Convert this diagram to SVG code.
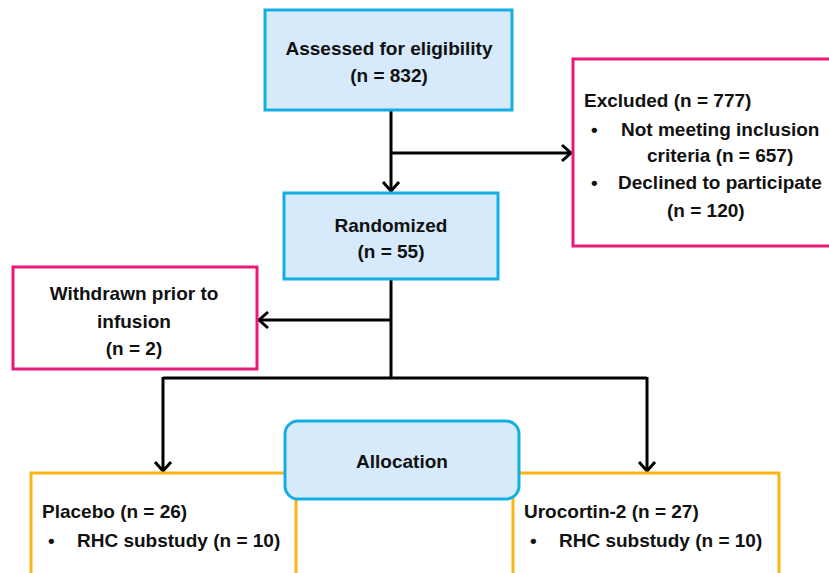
<svg xmlns="http://www.w3.org/2000/svg" width="829" height="573" viewBox="0 0 829 573">
<style>
text{font-family:"Liberation Sans",Arial,sans-serif;font-weight:bold;font-size:19px;fill:#111}
.c{text-anchor:middle}
.blue{fill:#d6eafb;stroke:#13aee3;stroke-width:3}
.pink{fill:#fff;stroke:#e8197b;stroke-width:3}
.orange{fill:#fff;stroke:#fbb414;stroke-width:3}
.line{fill:none;stroke:#000;stroke-width:3}
</style>
<defs>
<marker id="ah" markerUnits="userSpaceOnUse" markerWidth="24" markerHeight="24" viewBox="-12 -12 24 24" refX="0" refY="0" orient="auto">
<path d="M-9,-8 L0,0 L-9,8" fill="none" stroke="#000" stroke-width="3"/>
</marker>
</defs>
<rect width="829" height="573" fill="#fff"/>
<g id="connectors">
<path class="line" d="M391,110 V191" marker-end="url(#ah)"/>
<path class="line" d="M391,153 H571" marker-end="url(#ah)"/>
<path class="line" d="M391,279 V378"/>
<path class="line" d="M391,320 H259" marker-end="url(#ah)"/>
<path class="line" d="M163,378 H647"/>
<path class="line" d="M163,377 V471" marker-end="url(#ah)"/>
<path class="line" d="M647,377 V471" marker-end="url(#ah)"/>
</g>
<g id="placebo">
<rect class="orange" x="31" y="473" width="265" height="140"/>
<text x="42" y="518">Placebo (n = 26)</text>
<text x="48" y="547">•</text>
<text x="77" y="547">RHC substudy (n = 10)</text>
</g>
<g id="urocortin">
<rect class="orange" x="513" y="473" width="266" height="140"/>
<text x="524" y="518">Urocortin-2 (n = 27)</text>
<text x="530" y="547">•</text>
<text x="559" y="547">RHC substudy (n = 10)</text>
</g>
<g id="allocation">
<rect class="blue" x="285" y="421" width="234" height="78" rx="13"/>
<text class="c" x="402" y="468">Allocation</text>
</g>
<g id="assessed">
<rect class="blue" x="265" y="10" width="247" height="100"/>
<text class="c" x="389" y="55">Assessed for eligibility</text>
<text class="c" x="389" y="82">(n = 832)</text>
</g>
<g id="excluded">
<rect class="pink" x="573" y="59" width="270" height="187"/>
<text x="584" y="107">Excluded (n = 777)</text>
<text x="591" y="136">•</text>
<text x="621" y="136">Not meeting inclusion</text>
<text x="647" y="162">criteria (n = 657)</text>
<text x="591" y="189">•</text>
<text x="618" y="189">Declined to participate</text>
<text x="667" y="217">(n = 120)</text>
</g>
<g id="randomized">
<rect class="blue" x="284" y="193" width="214" height="86"/>
<text class="c" x="391" y="232">Randomized</text>
<text class="c" x="391" y="258">(n = 55)</text>
</g>
<g id="withdrawn">
<rect class="pink" x="13" y="267" width="244" height="102"/>
<text class="c" x="134" y="300">Withdrawn prior to</text>
<text class="c" x="134" y="328">infusion</text>
<text class="c" x="134" y="355">(n = 2)</text>
</g>
</svg>
